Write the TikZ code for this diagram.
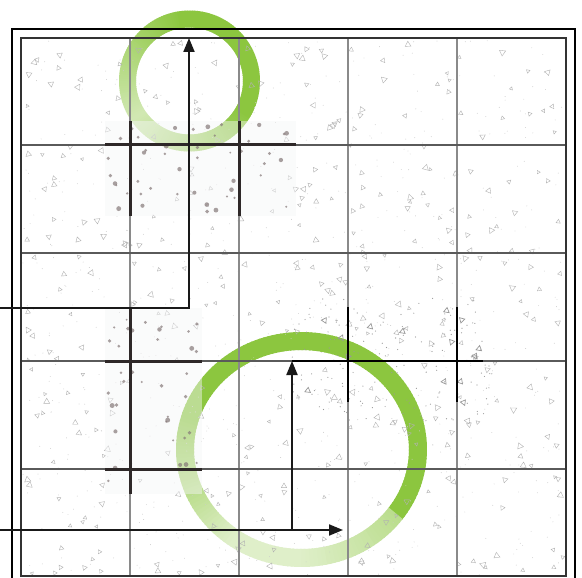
\documentclass[tikz,border=0pt]{standalone}
\usetikzlibrary{arrows.meta}
\definecolor{ringgreen}{HTML}{8CC63F}
\definecolor{gridv}{HTML}{8A8A8A}
\definecolor{gridh}{HTML}{5A5A5A}
\definecolor{patchline}{HTML}{2E2828}
\definecolor{blot}{HTML}{857878}
\definecolor{tricol}{HTML}{B2B2B2}
\definecolor{patchfill}{HTML}{F6F7F8}
\tikzset{
  frame/.style={draw=black, line width=1.3},
  innerframe/.style={draw=black!80, line width=2},
  gridvline/.style={draw=gridv, line width=1.6},
  gridhline/.style={draw=gridh, line width=1.1},
  patch/.style={fill=patchfill, fill opacity=0.45},
  patchln/.style={draw=patchline, line width=3},
  crossln/.style={draw=black, line width=1.5},
  arrowln/.style={draw=black!90, line width=2, -{Triangle[length=14pt,width=11pt]}},
  tri/.style={draw=tricol, line width=0.4},
}
\begin{document}
\begin{tikzpicture}[x=1pt,y=-1pt]
\useasboundingbox (0,0) rectangle (582,578);
\clip (0,0) rectangle (582,578);
\fill[white] (0,0) rectangle (582,578);

% big ring
\coordinate (bc) at (301.5,449.5);
\foreach \a in {0,2,...,358}{
  \pgfmathsetmacro{\u}{mod(\a-35+360,360)+35}
  \pgfmathtruncatemacro{\p}{\u<90 ? 60-(\u-35)/55*32 : (\u<125 ? 28 : (\u<195 ? 28+(\u-125)/70*72 : 100))}
  \draw[line width=18, draw=ringgreen!\p!white] (bc) ++(\a:116.5 and 108.5) arc[start angle=\a, end angle=\a+2.8, x radius=116.5, y radius=108.5];
}
% small ring
\coordinate (sc) at (189.5,81);
\foreach \a in {0,2,...,358}{
  \pgfmathtruncatemacro{\p}{100-60*max(0,1-abs(\a-145)/115)}
  \draw[line width=17, draw=ringgreen!\p!white] (sc) ++(\a:62) arc[start angle=\a, end angle=\a+2.8, radius=62];
}

% background texture
\pgfmathsetseed{42}
\foreach \i in {1,...,380}{
  \pgfmathsetmacro{\tx}{24+539*rnd}
  \pgfmathsetmacro{\ty}{41+533*rnd}
  \pgfmathsetmacro{\ts}{1.8+1.8*rnd}
  \pgfmathsetmacro{\tr}{360*rnd}
  \begin{scope}[shift={(\tx,\ty)}, rotate=\tr]
    \draw[tri] (0:\ts) -- (120:\ts) -- (240:\ts) -- cycle;
  \end{scope}
}
\foreach \i in {1,...,700}{
  \pgfmathsetmacro{\tx}{22+543*rnd}
  \pgfmathsetmacro{\ty}{39+536*rnd}
  \fill[black!20] (\tx,\ty) circle (0.45);
}
% dotted cluster
\foreach \i in {1,...,160}{
  \pgfmathsetmacro{\tx}{292+200*rnd}
  \pgfmathsetmacro{\ty}{298+125*rnd}
  \fill[black!40] (\tx,\ty) circle (0.6);
}
\foreach \i in {1,...,14}{
  \pgfmathsetmacro{\tx}{300+180*rnd}
  \pgfmathsetmacro{\ty}{305+110*rnd}
  \pgfmathsetmacro{\tr}{360*rnd}
  \begin{scope}[shift={(\tx,\ty)}, rotate=\tr]
    \draw[draw=black!40, line width=0.7] (0:3.2) -- (120:3.2) -- (240:3.2) -- cycle;
  \end{scope}
}

% patches
\fill[patch] (105,121) rectangle (296,216);
\fill[patch] (105,308) rectangle (202,494);
\foreach \i in {1,...,45}{
  \pgfmathsetmacro{\tx}{108+185*rnd}
  \pgfmathsetmacro{\ty}{124+89*rnd}
  \pgfmathsetmacro{\rr}{1+1.5*rnd}
  \fill[blot, opacity=0.7] (\tx,\ty) circle (\rr);
}
\foreach \i in {1,...,36}{
  \pgfmathsetmacro{\tx}{108+91*rnd}
  \pgfmathsetmacro{\ty}{311+180*rnd}
  \pgfmathsetmacro{\rr}{1+1.5*rnd}
  \fill[blot, opacity=0.7] (\tx,\ty) circle (\rr);
}

% grid
\foreach \x in {130,239,348,457} \draw[gridvline] (\x,38) -- (\x,576);
\foreach \y in {145,253,361,469} \draw[gridhline] (21,\y) -- (566,\y);
\draw[innerframe] (21,38) rectangle (566,576);
\draw[frame] (12,29) rectangle (575,600);

% patch lines
\draw[patchln] (105,145) -- (296,145);
\foreach \x in {130,239} \draw[patchln] (\x,121) -- (\x,216);
\draw[patchln] (130,308) -- (130,494);
\draw[patchln] (105,361) -- (202,361);
\draw[patchln] (105,469) -- (202,469);

% cluster cross lines
\draw[crossln] (348,307) -- (348,402);
\draw[crossln] (457,307) -- (457,402);
\draw[crossln] (292,361) -- (483,361);

% arrows
\coordinate (s0) at (0,308);
\coordinate (s1) at (189,308);
\coordinate (s2) at (189,38);
\draw[arrowln] (s0) -- (s1) -- (s2);
\coordinate (b0) at (0,530);
\coordinate (b1) at (343,530);
\coordinate (b2) at (292,530);
\coordinate (b3) at (292,361);
\draw[arrowln] (b0) -- (b1);
\draw[arrowln] (b2) -- (b3);
\end{tikzpicture}
\end{document}
